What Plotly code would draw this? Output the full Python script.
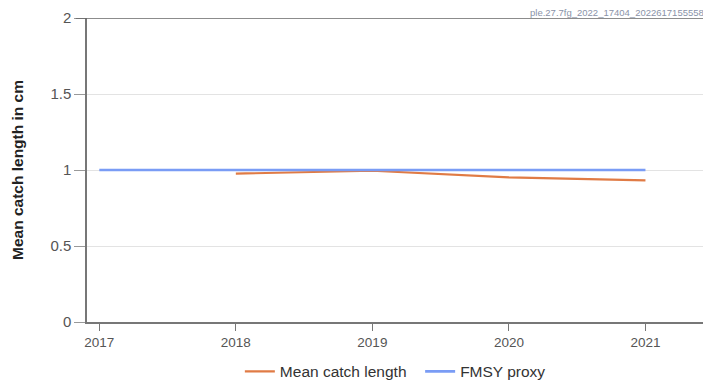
import plotly.graph_objects as go

years_mcl = [2018, 2019, 2020, 2021]
mean_catch_length = [0.976, 0.995, 0.952, 0.932]
years_fmsy = [2017, 2018, 2019, 2020, 2021]
fmsy_proxy = [1, 1, 1, 1, 1]
x_ticks = [2017, 2018, 2019, 2020, 2021]
y_ticks = [0, 0.5, 1, 1.5, 2]
y_tick_labels = ["0", "0.5", "1", "1.5", "2"]
title_text = "ple.27.7fg_2022_17404_2022617155558"

fig = go.Figure()
fig.add_trace(go.Scatter(x=years_mcl, y=mean_catch_length, mode="lines",
                         name="Mean catch length  ", line=dict(color="#E07B45", width=2.2)))
fig.add_trace(go.Scatter(x=years_fmsy, y=fmsy_proxy, mode="lines",
                         name="FMSY proxy", line=dict(color="#7A9CF5", width=2.6)))

fig.update_layout(
    width=703, height=377,
    margin=dict(l=79, r=0, t=10, b=63),
    paper_bgcolor="white", plot_bgcolor="white",
    font=dict(family="Liberation Sans, Arial, sans-serif", size=13, color="#555"),
    showlegend=True,
    legend=dict(orientation="h", xref="container", yref="container",
                x=0.551, xanchor="center", y=0.035, yanchor="middle",
                font=dict(size=15.5, color="#333"), itemwidth=30),
    xaxis=dict(range=[2016.91, 2021.48], tickvals=x_ticks, ticktext=[str(v) for v in x_ticks],
               showgrid=False, zeroline=False, showline=True, linecolor="#777", linewidth=1.5,
               ticks="outside", ticklen=7, tickcolor="#777", tickfont=dict(size=13.5, color="#555")),
    yaxis=dict(range=[0, 2], tickvals=y_ticks, ticktext=y_tick_labels,
               showgrid=True, gridcolor="#e3e3e3", gridwidth=1, zeroline=False,
               showline=True, linecolor="#777", linewidth=1.5,
               ticks="outside", ticklen=11, tickcolor="#999",
               tickfont=dict(size=15, color="#555")),
    annotations=[
        dict(text=title_text, xref="paper", yref="paper", x=1, y=1, xanchor="right",
             yanchor="bottom", xshift=-6, yshift=-1, borderpad=0, showarrow=False,
             font=dict(size=9.5, color="#8a93a8")),
        dict(text="<b>Mean catch length in cm</b>", xref="paper", yref="paper",
             x=0, y=0.5, xanchor="center", yanchor="middle", xshift=-70, textangle=-90,
             showarrow=False, font=dict(size=15.5, color="#222")),
    ],
    shapes=[dict(type="line", xref="paper", yref="y", x0=-0.018, x1=1, y0=2, y1=2,
                 line=dict(color="#666", width=1.5))],
)

fig.write_html("out.html")
